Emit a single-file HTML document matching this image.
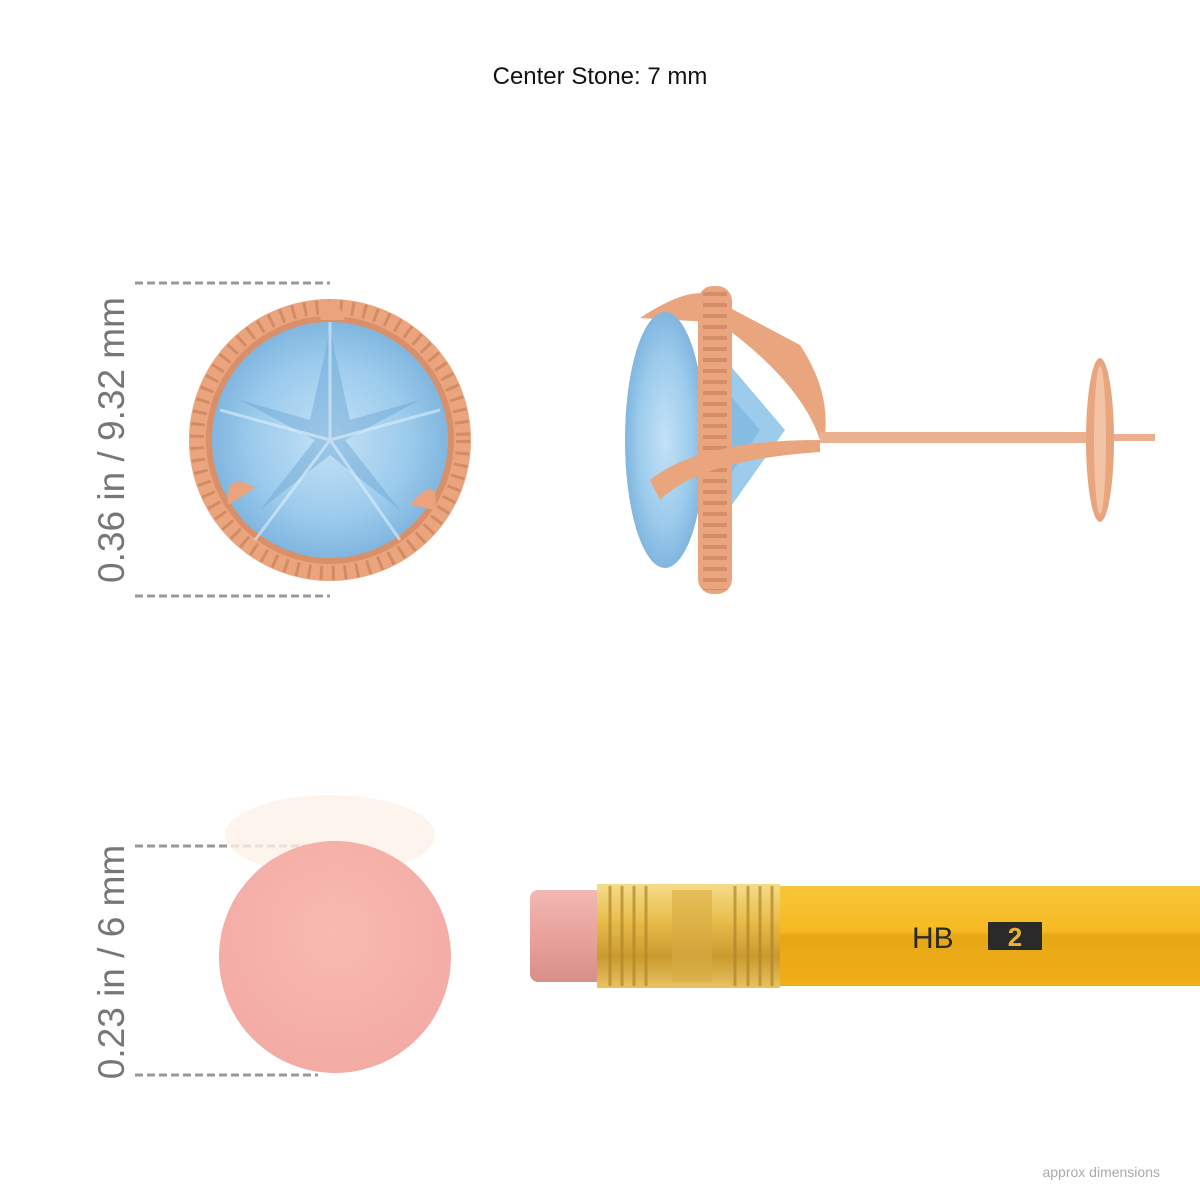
<!DOCTYPE html>
<html><head><meta charset="utf-8"><style>
html,body{margin:0;padding:0;background:#fff;width:1200px;height:1200px;overflow:hidden}
svg{display:block}
text{font-family:"Liberation Sans",Arial,sans-serif}
</style></head><body>
<svg width="1200" height="1200" viewBox="0 0 1200 1200" xmlns="http://www.w3.org/2000/svg">
<defs>
<radialGradient id="stone" cx="50%" cy="50%" r="55%">
<stop offset="0" stop-color="#c4e2f6"/><stop offset="0.6" stop-color="#9ccbec"/><stop offset="1" stop-color="#78b0dc"/>
</radialGradient>
<radialGradient id="eraser" cx="50%" cy="40%" r="60%">
<stop offset="0" stop-color="#f8b9b1"/><stop offset="1" stop-color="#f3aba4"/>
</radialGradient>
<linearGradient id="ferrule" x1="0" y1="0" x2="0" y2="1">
<stop offset="0" stop-color="#f6dc8a"/><stop offset="0.35" stop-color="#e8bd4c"/><stop offset="0.7" stop-color="#c99a2e"/><stop offset="1" stop-color="#e8c263"/>
</linearGradient>
<linearGradient id="body" x1="0" y1="0" x2="0" y2="1">
<stop offset="0" stop-color="#f8c63a"/><stop offset="0.45" stop-color="#f5b922"/><stop offset="0.5" stop-color="#e7a715"/><stop offset="1" stop-color="#f0ae18"/>
</linearGradient>
<linearGradient id="perase" x1="0" y1="0" x2="0" y2="1">
<stop offset="0" stop-color="#f2b8b2"/><stop offset="0.5" stop-color="#e9a29c"/><stop offset="1" stop-color="#d88f8a"/>
</linearGradient>
</defs>

<text x="600" y="84" font-size="24" text-anchor="middle" fill="#111">Center Stone: 7 mm</text>

<g stroke="#999" stroke-width="3" stroke-dasharray="8,4">
<line x1="135" y1="283" x2="330" y2="283"/>
<line x1="135" y1="596" x2="330" y2="596"/>
<line x1="135" y1="846" x2="318" y2="846"/>
<line x1="135" y1="1075" x2="318" y2="1075"/>
</g>
<text transform="translate(124,440) rotate(-90)" font-size="37" text-anchor="middle" fill="#777">0.36 in / 9.32 mm</text>
<text transform="translate(124,962) rotate(-90)" font-size="37" text-anchor="middle" fill="#777">0.23 in / 6 mm</text>

<circle cx="330" cy="440" r="141" fill="#eaa57e"/>
<circle cx="330" cy="440" r="133" fill="none" stroke="#c9805a" stroke-width="14" stroke-dasharray="3,9" opacity="0.7"/>
<circle cx="330" cy="440" r="124" fill="#d98f68"/>
<circle cx="330" cy="440" r="118" fill="url(#stone)"/>
<g fill="#6aa3d3" opacity="0.45">
<polygon points="330,330 350,420 420,400 345,440 400,510 330,455 260,510 315,440 240,400 310,420"/>
</g>
<path d="M330 440 L330 322 M330 440 L440 410 M330 440 L400 540 M330 440 L255 540 M330 440 L220 410" stroke="#dff0fb" stroke-width="3" opacity="0.6"/>
<path d="M320 320 Q330 280 345 320 Z" fill="#eaa37c"/>
<path d="M228 505 Q225 470 255 488 Z" fill="#eaa37c"/>
<path d="M410 505 Q440 470 435 510 Z" fill="#eaa37c"/>

<path d="M640 318 Q690 285 712 296 L710 322 Z" fill="#e9a57e"/>
<path d="M715 300 L800 345 Q830 390 825 435 L820 440 Q800 380 715 320 Z" fill="#e9a57e"/>
<ellipse cx="665" cy="440" rx="40" ry="128" fill="url(#stone)"/>
<path d="M700 330 L785 430 L700 550 Z" fill="#9ccbec"/>
<path d="M700 360 L760 430 L700 520 Z" fill="#78b0dc" opacity="0.6"/>
<rect x="698" y="286" width="34" height="308" rx="15" fill="#e9a57e"/>
<line x1="715" y1="292" x2="715" y2="590" stroke="#c47a55" stroke-width="24" stroke-dasharray="4,7" opacity="0.55"/>
<path d="M650 480 Q700 440 820 440 L820 452 Q700 460 660 500 Z" fill="#e9a57e"/>
<rect x="820" y="432" width="280" height="11" fill="#eab090"/>
<rect x="1100" y="434" width="55" height="7" fill="#eab090"/>
<ellipse cx="1100" cy="440" rx="14" ry="82" fill="#e9a57e"/>
<ellipse cx="1100" cy="440" rx="6" ry="74" fill="#f3c3a5"/>

<ellipse cx="330" cy="835" rx="105" ry="40" fill="#fcf3e8" opacity="0.8"/>
<circle cx="335" cy="957" r="116" fill="url(#eraser)"/>

<rect x="530" y="890" width="75" height="92" rx="8" fill="url(#perase)"/>
<rect x="597" y="884" width="183" height="104" fill="url(#ferrule)"/>
<g stroke="#b0852a" stroke-width="3" opacity="0.7">
<line x1="610" y1="886" x2="610" y2="986"/><line x1="622" y1="886" x2="622" y2="986"/>
<line x1="634" y1="886" x2="634" y2="986"/><line x1="646" y1="886" x2="646" y2="986"/>
<line x1="735" y1="886" x2="735" y2="986"/><line x1="748" y1="886" x2="748" y2="986"/>
<line x1="760" y1="886" x2="760" y2="986"/><line x1="772" y1="886" x2="772" y2="986"/>
</g>
<rect x="672" y="890" width="40" height="92" fill="#d9ac44" opacity="0.6"/>
<rect x="780" y="886" width="420" height="100" fill="url(#body)"/>
<text x="912" y="948" font-size="30" fill="#2a2a2a">HB</text>
<rect x="988" y="922" width="54" height="28" fill="#2a2a2a"/>
<text x="1015" y="946" font-size="26" fill="#e9b52a" text-anchor="middle" font-weight="bold">2</text>

<text x="1160" y="1177" font-size="14" text-anchor="end" fill="#aaa">approx dimensions</text>
</svg>
</body></html>
